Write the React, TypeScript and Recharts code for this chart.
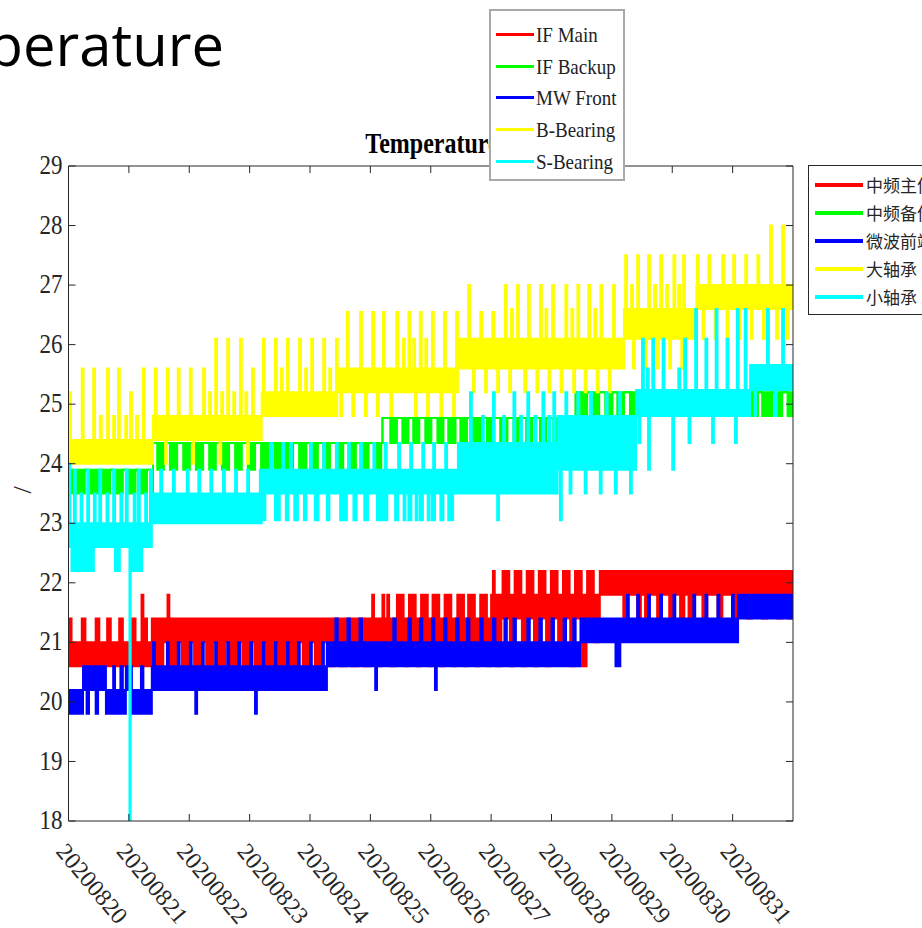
import React from 'react';
import { AreaChart, Area, XAxis, YAxis, ReferenceLine, Legend } from 'recharts';

// [start day, low, high] - band the reading sits in until the next row
type Band = [number, number, number];
// [from day, to day, level] - short excursion out of the current band
type Move = [number, number, number];

const dateLabels = [
    '20200820', '20200821', '20200822', '20200823', '20200824', '20200825',
    '20200826', '20200827', '20200828', '20200829', '20200830', '20200831',
];
const dayTicks = [0, 1, 2, 3, 4, 5, 6, 7, 8, 9, 10, 11];
const tempTicks = [18, 19, 20, 21, 22, 23, 24, 25, 26, 27, 28, 29];

const seriesKeys = ['ifMain', 'ifBackup', 'mwFront', 'bBearing', 'sBearing'];
const seriesNames = ['IF Main', 'IF Backup', 'MW Front', 'B-Bearing', 'S-Bearing'];
const seriesNamesCn = ['中频主份', '中频备份', '微波前端', '大轴承', '小轴承'];
const seriesColors = ['#ff0000', '#00ff00', '#0000ff', '#ffff00', '#00ffff'];

// IF main
const ifMainBand: Band[] = [
    [0, 20.6, 21.0],
    [1.38, 21.0, 21.4],
    [7.0, 21.4, 21.8],
    [8.8, 21.8, 22.2],
];
const ifMainMoves: Move[] = [
    [0, 0.05, 21.4], [0.22, 0.28, 21.4], [0.45, 0.51, 21.4], [0.64, 0.7, 21.4], [0.84, 0.9, 21.4],
    [1.05, 1.11, 21.4], [1.21, 1.24, 21.8], [1.24, 1.3, 21.4],
    [1.45, 1.57, 20.6], [1.64, 1.67, 21.8], [1.68, 1.8, 20.6], [1.88, 2.0, 20.6], [2.08, 2.2, 20.6],
    [2.28, 2.4, 20.6], [2.48, 2.6, 20.6], [2.68, 2.8, 20.6], [2.88, 3.0, 20.6], [3.08, 3.2, 20.6],
    [3.28, 3.4, 20.6], [3.48, 3.6, 20.6], [3.68, 3.8, 20.6], [3.88, 4.0, 20.6], [4.08, 4.2, 20.6],
    [4.28, 4.4, 20.6], [4.48, 4.6, 20.6], [4.68, 4.8, 20.6], [4.88, 5.0, 20.6],
    [5.03, 5.06, 21.8], [5.1, 5.18, 20.6], [5.2, 5.23, 21.8], [5.28, 5.31, 21.8], [5.34, 5.42, 20.6],
    [5.44, 5.55, 21.8], [5.57, 5.63, 20.6], [5.64, 5.75, 21.8], [5.77, 5.83, 20.6], [5.84, 5.95, 21.8],
    [5.97, 6.02, 20.6], [6.03, 6.14, 21.8], [6.16, 6.22, 20.6], [6.23, 6.34, 21.8], [6.36, 6.42, 20.6],
    [6.44, 6.55, 21.8], [6.56, 6.61, 20.6], [6.62, 6.73, 21.8], [6.75, 6.8, 20.6], [6.82, 6.93, 21.8],
    [6.94, 6.99, 20.6],
    [7.03, 7.06, 22.2], [7.08, 7.17, 20.6], [7.19, 7.3, 22.2], [7.31, 7.38, 20.6], [7.39, 7.5, 22.2],
    [7.51, 7.58, 20.6], [7.59, 7.7, 22.2], [7.71, 7.78, 20.6], [7.79, 7.9, 22.2], [7.91, 7.98, 20.6],
    [7.99, 8.1, 22.2], [8.11, 8.18, 21.0], [8.19, 8.3, 22.2], [8.31, 8.38, 20.6], [8.39, 8.5, 22.2],
    [8.51, 8.58, 20.6], [8.59, 8.7, 22.2], [8.71, 8.78, 21.0],
    [9.19, 9.27, 21.4], [9.42, 9.48, 21.4], [9.55, 9.62, 21.4], [9.75, 9.82, 21.4], [9.95, 10.02, 21.4],
    [10.13, 10.2, 21.4], [10.27, 10.35, 21.4], [10.5, 10.58, 21.4], [10.75, 10.83, 21.4],
    [10.99, 11.07, 21.4], [11.24, 11.32, 21.4], [11.49, 11.57, 21.4], [11.74, 11.82, 21.4], [11.92, 12, 21.4],
];

// IF backup
const ifBackupBand: Band[] = [
    [0, 23.9, 23.9],
    [1.4, 24.35, 24.35],
    [5.2, 24.77, 24.77],
    [8.4, 25.2, 25.2],
];
const ifBackupMoves: Move[] = [
    [0, 0.27, 23.5], [0.33, 0.5, 23.5], [0.56, 0.69, 23.5], [0.75, 0.9, 23.5], [0.96, 1.11, 23.5],
    [1.16, 1.3, 23.5], [1.35, 1.4, 23.5],
    [1.47, 1.58, 23.9], [1.68, 1.8, 23.9], [1.9, 2.01, 23.9], [2.11, 2.23, 23.9], [2.33, 2.44, 23.9],
    [2.54, 2.66, 23.9], [2.76, 2.87, 23.9], [2.97, 3.09, 23.9], [3.19, 3.31, 23.9], [3.41, 3.52, 23.9],
    [3.6, 3.72, 23.9], [3.82, 3.94, 23.9], [4.02, 4.13, 23.9], [4.22, 4.33, 23.9], [4.43, 4.55, 23.9],
    [4.65, 4.76, 23.9], [4.85, 4.97, 23.9], [5.06, 5.18, 23.9],
    [5.33, 5.44, 24.35], [5.53, 5.63, 24.35], [5.71, 5.81, 24.35], [5.91, 6.01, 24.35], [6.11, 6.21, 24.35],
    [6.29, 6.41, 24.35], [6.49, 6.6, 24.35], [6.7, 6.82, 24.35], [6.93, 7.03, 24.35], [7.15, 7.27, 24.35],
    [7.37, 7.48, 24.35], [7.58, 7.68, 24.35], [7.81, 7.91, 24.35], [8.03, 8.14, 24.35], [8.28, 8.39, 24.35],
    [8.48, 8.59, 24.8], [8.67, 8.79, 24.8], [8.89, 9.01, 24.8], [9.09, 9.2, 24.8], [9.3, 9.42, 24.8],
    [9.5, 9.62, 24.8], [9.72, 9.84, 24.8], [9.92, 10.03, 24.8], [10.13, 10.25, 24.8], [10.33, 10.45, 24.8],
    [10.55, 10.66, 24.8], [10.75, 10.86, 24.8], [10.96, 11.08, 24.8], [11.26, 11.42, 24.8],
    [11.49, 11.66, 24.8], [11.71, 11.82, 24.8], [11.91, 12, 24.8],
];

// MW front end
const mwFrontBand: Band[] = [
    [0, 19.8, 20.2],
    [0.24, 20.2, 20.6],
    [0.62, 19.8, 20.2],
    [0.95, 20.2, 20.6],
    [1.05, 19.8, 20.2],
    [1.38, 20.2, 20.6],
    [4.28, 20.6, 21.0],
    [8.48, 21.0, 21.4],
    [11.09, 21.4, 21.8],
];
const mwFrontMoves: Move[] = [
    [0.3, 0.34, 19.8], [0.45, 0.49, 19.8], [0.74, 0.77, 20.6], [0.86, 0.9, 20.6], [1.2, 1.24, 20.6],
    [1.4, 1.43, 21.0], [1.63, 1.66, 21.0], [1.81, 1.84, 21.0], [2.01, 2.04, 21.0], [2.1, 2.13, 19.8],
    [2.21, 2.24, 21.0], [2.43, 2.46, 21.0], [2.63, 2.66, 21.0], [2.81, 2.84, 21.0], [3.01, 3.04, 21.0],
    [3.09, 3.12, 19.8], [3.22, 3.25, 21.0], [3.42, 3.45, 21.0], [3.62, 3.65, 21.0], [3.8, 3.83, 21.0],
    [4.0, 4.03, 21.0], [4.2, 4.23, 21.0],
    [4.42, 4.46, 21.4], [4.62, 4.66, 21.4], [4.82, 4.86, 21.4], [5.08, 5.11, 20.2], [5.38, 5.42, 21.4],
    [5.63, 5.67, 21.4], [5.82, 5.86, 21.4], [6.02, 6.06, 21.4], [6.07, 6.1, 20.2], [6.22, 6.26, 21.4],
    [6.42, 6.46, 21.4], [6.6, 6.64, 21.4], [6.82, 6.86, 21.4], [7.03, 7.07, 21.4], [7.22, 7.26, 21.4],
    [7.37, 7.41, 21.4], [7.6, 7.64, 21.4], [7.8, 7.84, 21.4], [8.0, 8.04, 21.4], [8.2, 8.24, 21.4],
    [8.36, 8.4, 21.4],
    [9.06, 9.14, 20.6], [9.25, 9.28, 21.8], [9.42, 9.45, 21.8], [9.6, 9.63, 21.8], [9.8, 9.83, 21.8],
    [10.02, 10.05, 21.8], [10.35, 10.38, 21.8], [10.55, 10.58, 21.8], [10.75, 10.78, 21.8], [10.99, 11.02, 21.8],
];

// big bearing
const bBearingBand: Band[] = [
    [0, 24.0, 24.4],
    [1.4, 24.4, 24.8],
    [3.2, 24.8, 25.2],
    [4.45, 25.2, 25.6],
    [6.45, 25.6, 26.1],
    [9.2, 26.1, 26.6],
    [10.4, 26.6, 27.0],
];
const bBearingMoves: Move[] = [
    [0, 0.04, 25.2], [0.22, 0.25, 25.6], [0.41, 0.44, 25.6], [0.52, 0.55, 24.8], [0.64, 0.67, 25.6],
    [0.74, 0.77, 24.8], [0.82, 0.85, 25.6], [0.94, 0.97, 24.8], [1.02, 1.05, 25.2], [1.12, 1.15, 24.8],
    [1.23, 1.26, 25.6], [1.43, 1.46, 25.6],
    [1.6, 1.63, 24.0], [1.63, 1.66, 25.6], [1.81, 1.84, 25.6], [2.01, 2.04, 25.6], [2.05, 2.08, 24.0],
    [2.23, 2.26, 25.6], [2.33, 2.36, 25.2], [2.43, 2.46, 26.1], [2.5, 2.53, 24.0], [2.53, 2.56, 25.2],
    [2.63, 2.66, 26.1], [2.73, 2.76, 25.2], [2.84, 2.87, 26.1], [2.93, 2.96, 25.2], [2.96, 2.99, 24.0],
    [3.04, 3.07, 25.6],
    [3.22, 3.25, 26.1], [3.42, 3.45, 26.1], [3.52, 3.55, 25.6], [3.62, 3.65, 26.1], [3.82, 3.85, 26.1],
    [3.92, 3.95, 25.6], [4.02, 4.05, 26.1], [4.22, 4.25, 26.1], [4.32, 4.35, 25.6], [4.43, 4.46, 26.1],
    [4.5, 4.53, 24.8], [4.61, 4.64, 26.55], [4.7, 4.73, 24.8], [4.83, 4.86, 26.55], [4.91, 4.94, 24.8],
    [5.03, 5.06, 26.55], [5.11, 5.14, 24.8], [5.21, 5.24, 26.55], [5.33, 5.36, 24.8], [5.43, 5.46, 26.55],
    [5.54, 5.57, 26.1], [5.63, 5.66, 26.55], [5.71, 5.74, 26.1], [5.74, 5.77, 24.8], [5.82, 5.85, 26.55],
    [5.91, 5.94, 26.1], [5.94, 5.97, 24.8], [6.02, 6.05, 26.55], [6.16, 6.19, 24.8], [6.22, 6.25, 26.55],
    [6.37, 6.4, 24.8], [6.42, 6.45, 26.55],
    [6.62, 6.65, 27.0], [6.7, 6.73, 25.2], [6.82, 6.85, 26.55], [6.9, 6.93, 25.2], [7.02, 7.05, 26.55],
    [7.1, 7.13, 25.2], [7.23, 7.26, 27.0], [7.3, 7.33, 25.2], [7.33, 7.36, 26.6], [7.43, 7.46, 27.0],
    [7.55, 7.58, 25.2], [7.61, 7.64, 27.0], [7.75, 7.78, 25.2], [7.81, 7.84, 27.0], [7.9, 7.93, 26.6],
    [7.95, 7.98, 25.2], [8.01, 8.04, 27.0], [8.15, 8.18, 25.2], [8.23, 8.26, 27.0], [8.33, 8.36, 26.6],
    [8.36, 8.39, 25.2], [8.43, 8.46, 27.0], [8.55, 8.58, 25.2], [8.61, 8.64, 27.0], [8.71, 8.74, 26.6],
    [8.75, 8.78, 25.2], [8.81, 8.84, 27.0], [8.95, 8.98, 25.2], [9.02, 9.05, 27.0],
    [9.22, 9.25, 27.5], [9.32, 9.35, 27.0], [9.35, 9.38, 25.6], [9.42, 9.45, 27.5], [9.55, 9.58, 25.6],
    [9.6, 9.63, 27.5], [9.7, 9.73, 27.0], [9.75, 9.78, 25.6], [9.8, 9.83, 27.5], [9.9, 9.93, 27.0],
    [9.95, 9.98, 25.6], [10.02, 10.05, 27.5], [10.1, 10.13, 27.0], [10.15, 10.18, 25.6], [10.18, 10.21, 27.5],
    [10.41, 10.44, 27.5], [10.5, 10.53, 26.1], [10.6, 10.63, 27.5], [10.7, 10.73, 26.1], [10.83, 10.86, 27.5],
    [10.9, 10.93, 26.1], [11.01, 11.04, 27.5], [11.1, 11.13, 26.1], [11.21, 11.24, 27.5], [11.3, 11.33, 26.1],
    [11.41, 11.44, 27.5], [11.5, 11.53, 26.1], [11.62, 11.65, 28.0], [11.72, 11.75, 26.1], [11.82, 11.85, 28.0],
    [11.9, 11.93, 26.1],
];

// small bearing
const sBearingBand: Band[] = [
    [0, 22.6, 23.0],
    [1.38, 23.0, 23.5],
    [3.2, 23.5, 23.9],
    [6.45, 23.5, 24.35],
    [8.1, 23.9, 24.8],
    [9.4, 24.8, 25.24],
    [11.29, 25.24, 25.66],
];
const sBearingMoves: Move[] = [
    [0, 0.03, 24.0], [0.05, 0.22, 22.2], [0.09, 0.12, 23.9], [0.2, 0.23, 23.5], [0.25, 0.42, 22.2],
    [0.31, 0.34, 23.9], [0.42, 0.45, 23.5], [0.51, 0.54, 23.9], [0.63, 0.66, 23.5], [0.74, 0.77, 23.9],
    [0.77, 0.85, 22.2], [0.86, 0.89, 23.5], [0.95, 0.98, 23.9], [1.01, 1.03, 18.0], [1.05, 1.22, 22.2],
    [1.08, 1.11, 23.5], [1.15, 1.18, 23.9], [1.27, 1.3, 23.5], [1.35, 1.38, 23.9],
    [1.52, 1.55, 23.9], [1.73, 1.76, 23.9], [1.96, 1.99, 23.9], [2.15, 2.18, 23.9], [2.35, 2.38, 23.9],
    [2.56, 2.59, 23.9], [2.76, 2.79, 23.9], [2.96, 2.99, 23.9], [3.17, 3.2, 23.9],
    [3.2, 3.26, 23.05], [3.34, 3.37, 24.35], [3.42, 3.5, 23.05], [3.54, 3.57, 24.35], [3.6, 3.64, 23.05],
    [3.67, 3.7, 24.35], [3.74, 3.8, 23.05], [3.9, 3.94, 23.05], [4.0, 4.03, 24.35], [4.08, 4.14, 23.05],
    [4.22, 4.25, 24.35], [4.28, 4.32, 23.05], [4.43, 4.46, 24.35], [4.5, 4.61, 23.05], [4.63, 4.66, 24.35],
    [4.72, 4.77, 23.05], [4.83, 4.86, 24.35], [4.9, 4.96, 23.05], [5.05, 5.08, 24.35], [5.11, 5.28, 23.05],
    [5.24, 5.27, 24.35], [5.41, 5.46, 23.05], [5.46, 5.49, 24.35], [5.55, 5.58, 23.05], [5.63, 5.68, 23.05],
    [5.66, 5.69, 24.35], [5.75, 5.78, 23.05], [5.82, 5.87, 23.05], [5.86, 5.89, 24.35], [5.95, 5.98, 23.05],
    [6.02, 6.07, 23.05], [6.04, 6.07, 24.35], [6.16, 6.21, 23.05], [6.24, 6.27, 24.35], [6.29, 6.37, 23.05],
    [6.65, 6.68, 25.2], [6.85, 6.88, 24.8], [7.03, 7.06, 25.2], [7.1, 7.13, 23.05], [7.2, 7.23, 24.8],
    [7.37, 7.4, 25.2], [7.48, 7.51, 24.8], [7.6, 7.63, 25.2], [7.72, 7.75, 24.8], [7.85, 7.88, 25.2],
    [7.95, 7.98, 24.8], [8.03, 8.06, 25.2],
    [8.14, 8.17, 23.05], [8.23, 8.26, 25.2], [8.3, 8.33, 23.5], [8.43, 8.46, 25.2], [8.55, 8.58, 23.5],
    [8.64, 8.67, 25.2], [8.8, 8.83, 23.5], [8.9, 8.93, 25.2], [9.05, 9.08, 23.5], [9.12, 9.15, 25.2],
    [9.3, 9.33, 23.5],
    [9.44, 9.47, 24.35], [9.5, 9.53, 26.1], [9.58, 9.61, 25.6], [9.6, 9.63, 23.9], [9.67, 9.7, 26.1],
    [9.84, 9.87, 26.1], [10.0, 10.03, 23.9], [10.1, 10.13, 25.6], [10.2, 10.23, 26.1], [10.27, 10.3, 24.35],
    [10.38, 10.41, 26.6], [10.55, 10.58, 26.1], [10.66, 10.69, 24.35], [10.72, 10.75, 26.6], [10.9, 10.93, 26.1],
    [11.04, 11.07, 24.35], [11.07, 11.1, 26.6], [11.2, 11.23, 26.6],
    [11.36, 11.39, 24.8], [11.57, 11.6, 26.6], [11.7, 11.73, 24.8], [11.82, 11.85, 26.6],
];

const seriesBands = [ifMainBand, ifBackupBand, mwFrontBand, bBearingBand, sBearingBand];
const seriesMoves = [ifMainMoves, ifBackupMoves, mwFrontMoves, bBearingMoves, sBearingMoves];

// low/high reached by a series at day t (held until the next row)
const rangeAt = (band: Band[], moves: Move[], t: number) => {
    let lo = band[0][1];
    let hi = band[0][2];
    band.forEach(([t0, l, h]) => {
        if (t0 <= t) { lo = l; hi = h; }
    });
    moves.forEach(([m0, m1, v]) => {
        if (t >= m0 && t < m1) { lo = Math.min(lo, v); hi = Math.max(hi, v); }
    });
    return [lo, hi];
};

const allDays: number[] = [0, 12];
seriesBands.forEach(b => b.forEach(r => allDays.push(r[0])));
seriesMoves.forEach(m => m.forEach(r => { allDays.push(r[0]); allDays.push(r[1]); }));
const sortedDays = Array.from(new Set(allDays)).sort((a, b) => a - b);

const chartData = sortedDays.map(day => {
    const row: any = { day };
    seriesKeys.forEach((key, i) => {
        row[key] = rangeAt(seriesBands[i], seriesMoves[i], day);
    });
    return row;
});

const AXIS = '#262626';
const SERIF = "'Liberation Serif', 'Times New Roman', serif";
const PLOT_W = 724.5;
const PLOT_H = 655;

const DayTick = ({ x, y, payload }: any) => (
    <g>
        <line x1={x} x2={x} y1={y} y2={y - 7} stroke={AXIS} />
        <line x1={x} x2={x} y1={y - PLOT_H} y2={y - PLOT_H + 7} stroke={AXIS} />
        <text
            transform={`translate(${x - 13.5} ${y + 31}) rotate(50)`}
            fontFamily={SERIF}
            fontSize={24}
            fill={AXIS}
        >
            {dateLabels[payload.value]}
        </text>
    </g>
);

const TempTick = ({ x, y, payload }: any) => (
    <g>
        <line x1={x} x2={x + 7} y1={y} y2={y} stroke={AXIS} />
        <line x1={x + PLOT_W} x2={x + PLOT_W - 7} y1={y} y2={y} stroke={AXIS} />
        <text
            transform={`translate(${x - 6} ${y}) scale(1 1.15)`}
            y={7}
            textAnchor="end"
            fontFamily={SERIF}
            fontSize={23}
            fill={AXIS}
        >
            {payload.value}
        </text>
    </g>
);

const LegendBoxes = () => (
    <div style={{ position: 'relative', width: 0, height: 0 }}>
        <div style={{
            position: 'absolute', left: 489, top: 9, width: 136, height: 172, boxSizing: 'border-box',
            border: '2px solid #a8a8a8', background: '#fff',
        }}>
            {seriesNames.map((name, i) => (
                <div key={name} style={{ position: 'absolute', left: 5, top: 13 + i * 31.7, height: 22, width: 130 }}>
                    <div style={{ position: 'absolute', left: 0, top: 9, width: 38, height: 3, background: seriesColors[i] }} />
                    <div style={{
                        position: 'absolute', left: 40, top: 0, fontFamily: SERIF, fontSize: 19, lineHeight: '22px',
                        color: '#222', whiteSpace: 'nowrap', transform: 'scaleY(1.15)',
                    }}>{name}</div>
                </div>
            ))}
        </div>
        <div style={{
            position: 'absolute', left: 808, top: 165, width: 140, height: 150, boxSizing: 'border-box',
            border: '1px solid #262626', background: '#fff',
        }}>
            {seriesNamesCn.map((name, i) => (
                <div key={name} style={{ position: 'absolute', left: 6, top: 7 + i * 28, height: 24, width: 130 }}>
                    <div style={{ position: 'absolute', left: 0, top: 10, width: 48, height: 4, background: seriesColors[i] }} />
                    <div style={{
                        position: 'absolute', left: 51, top: 0, fontFamily: "'Noto Sans CJK SC', sans-serif",
                        fontSize: 17, lineHeight: '24px', color: '#262626', whiteSpace: 'nowrap',
                    }}>{name}</div>
                </div>
            ))}
        </div>
    </div>
);

const App = () => (
    <div style={{ position: 'absolute', left: 0, top: 0, width: 922, height: 928, overflow: 'hidden', background: '#fff' }}>
        <svg width={922} height={928} style={{ position: 'absolute', left: 0, top: 0 }}>
            <text x={224} y={66} textAnchor="end" fontFamily="'Open Sans', sans-serif" fontSize={58} fill="#000">
                Temperature
            </text>
            <text
                transform="translate(432 153) scale(1 1.25)"
                textAnchor="middle"
                fontFamily={SERIF}
                fontWeight="bold"
                fontSize={24}
                fill="#000"
            >
                Temperature
            </text>
        </svg>
        <div style={{ position: 'absolute', left: 0, top: 0 }}>
            <AreaChart width={922} height={928} data={chartData} margin={{ top: 166, right: 129, bottom: 7, left: 8 }}>
                <XAxis
                    dataKey="day"
                    type="number"
                    domain={[0, 12]}
                    ticks={dayTicks}
                    interval={0}
                    allowDataOverflow
                    height={100}
                    tickSize={0}
                    tickMargin={0}
                    tickLine={false}
                    axisLine={{ stroke: AXIS }}
                    tick={<DayTick />}
                />
                <YAxis
                    type="number"
                    domain={[18, 29]}
                    ticks={tempTicks}
                    interval={0}
                    allowDataOverflow
                    width={60.5}
                    tickSize={0}
                    tickMargin={0}
                    tickLine={false}
                    axisLine={{ stroke: AXIS }}
                    tick={<TempTick />}
                    label={{ value: '/', angle: -90, position: 'insideLeft', offset: 14, fontFamily: SERIF, fontSize: 26, fill: AXIS }}
                />
                <ReferenceLine y={29} stroke={AXIS} />
                <ReferenceLine x={12} stroke={AXIS} />
                {seriesKeys.map((key, i) => (
                    <Area
                        key={key}
                        type="stepAfter"
                        dataKey={key}
                        name={seriesNames[i]}
                        stroke={seriesColors[i]}
                        strokeWidth={2}
                        fill={seriesColors[i]}
                        fillOpacity={1}
                        dot={false}
                        activeDot={false}
                        isAnimationActive={false}
                    />
                ))}
                <Legend content={() => <LegendBoxes />} wrapperStyle={{ left: 0, top: 0, width: 0, height: 0 }} />
            </AreaChart>
        </div>
    </div>
);

export default App;
